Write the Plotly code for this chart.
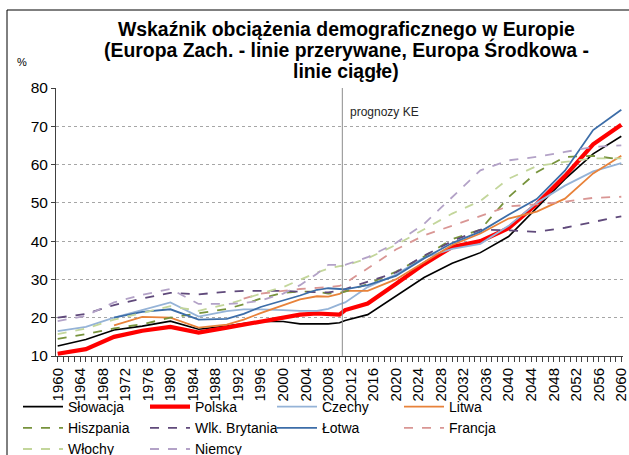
import plotly.graph_objects as go

years = [1960, 1965, 1970, 1975, 1980, 1985, 1990, 1993, 1996, 2000, 2003, 2006, 2008, 2010,
         2011, 2015, 2020, 2025, 2030, 2035, 2040, 2045, 2050, 2055, 2060]

slowacja = [12.6, 14.3, 16.8, 17.8, 19.1, 17.0, 17.8, 18.5, 19.0, 19.0, 18.4, 18.3, 18.4, 18.7,
            19.3, 20.8, 25.7, 30.5, 34.2, 37.0, 41.2, 48.6, 56.2, 62.8, 67.4]
polska = [10.6, 11.8, 15.0, 16.6, 17.6, 16.1, 17.4, 18.2, 19.2, 20.0, 20.8, 21.1, 21.0, 20.8,
          22.0, 23.7, 28.8, 34.0, 38.5, 40.0, 43.4, 49.7, 57.0, 65.3, 70.4]
czechy = [16.5, 17.6, 20.0, 22.0, 24.0, 20.3, 21.7, 22.2, 22.2, 22.0, 21.8, 21.8, 22.3, 23.5,
          24.0, 28.0, 31.3, 35.7, 38.0, 39.3, 44.0, 50.0, 54.5, 58.2, 60.4]
litwa = [None, None, 18.0, 20.2, 20.0, 17.4, 18.2, 19.5, 21.2, 23.3, 24.8, 25.6, 25.5, 26.2,
         27.0, 27.0, 30.0, 34.5, 39.0, 42.0, 45.9, 47.7, 51.1, 57.7, 62.3]
hiszpania = [14.5, 15.7, 17.2, 18.3, 20.0, 21.2, 22.3, 23.5, 25.0, 26.5, 26.8, 26.8, 26.3, 26.5,
             26.8, 28.8, 32.0, 36.0, 40.5, 43.0, 51.5, 58.0, 62.0, 62.3, 61.3]
wlk_brytania = [20.0, 21.0, 23.3, 25.0, 26.5, 26.1, 26.8, 27.0, 27.0, 27.0, 26.8, 26.6, 26.6, 27.0,
                27.5, 29.5, 31.8, 36.2, 40.0, 43.0, 42.8, 42.4, 43.5, 45.0, 46.5]
lotwa = [None, None, 20.0, 21.5, 22.2, 19.5, 19.7, 21.0, 22.8, 24.5, 25.8, 27.3, 27.7, 27.5,
         27.4, 28.5, 30.9, 35.5, 39.5, 42.5, 46.9, 51.0, 58.4, 69.0, 74.3]
francja = [None, None, None, None, None, None, None, 25.0, 26.3, 27.0, 27.5, 27.8, 28.0, 28.3,
           29.0, 33.0, 37.8, 41.5, 44.0, 46.5, 49.1, 49.6, 50.3, 51.3, 51.6]
wlochy = [15.7, 17.2, 19.5, 21.3, 23.0, 21.8, 23.5, 24.8, 26.3, 28.0, 30.0, 31.8, 32.8, 33.5,
          33.6, 35.5, 39.0, 43.0, 47.2, 50.5, 56.3, 59.6, 60.7, 61.6, 61.6]
niemcy = [19.1, 20.5, 24.0, 26.0, 27.5, 23.6, 23.6, 23.8, 24.5, 26.3, 28.5, 31.5, 33.8, 33.8,
          33.8, 35.8, 39.5, 44.5, 51.5, 58.5, 61.1, 62.0, 63.3, 64.6, 65.0]

tick_years = list(range(1960, 2061, 4))
tick_labels = [str(y) for y in tick_years]
forecast_start = 2010.5

series = [
    ("Słowacja", slowacja, "#000000", 1.6, "solid"),
    ("Polska", polska, "#FF0000", 4.2, "solid"),
    ("Czechy", czechy, "#95B3D7", 1.8, "solid"),
    ("Litwa", litwa, "#E8823A", 1.8, "solid"),
    ("Hiszpania", hiszpania, "#77933C", 1.8, "dash"),
    ("Wlk. Brytania", wlk_brytania, "#604A7B", 1.8, "dash"),
    ("Łotwa", lotwa, "#3C6DA8", 1.8, "solid"),
    ("Francja", francja, "#D99694", 1.8, "dash"),
    ("Włochy", wlochy, "#C3D69B", 1.8, "dash"),
    ("Niemcy", niemcy, "#B3A2C7", 1.8, "dash"),
]

fig = go.Figure()
for name, vals, color, w, dash in series:
    fig.add_trace(go.Scatter(x=years, y=vals, name=name, mode="lines",
                             line=dict(color=color, width=w, dash=dash)))

L, R, T, B = 56, 6, 88, 99
W, H = 629, 455
pw, ph = W - L - R, H - T - B

def px2x(px):
    return (px - L) / pw

def py2y(py):
    return (H - B - py) / ph

fig.add_shape(type="line", xref="x", yref="y", x0=forecast_start, x1=forecast_start, y0=10, y1=80,
              line=dict(color="#8C8C8C", width=1))
# outer chart frame
fig.add_shape(type="rect", xref="paper", yref="paper", x0=px2x(7), x1=px2x(640),
              y0=py2y(470), y1=py2y(10), line=dict(color="#000000", width=1), layer="below")

title_lines = ["Wskaźnik obciążenia demograficznego w Europie",
               "(Europa Zach. - linie przerywane, Europa Środkowa -",
               "linie ciągłe)"]
for i, t in enumerate(title_lines):
    fig.add_annotation(text="<b>%s</b>" % t, xref="paper", yref="paper",
                       x=px2x(346), y=py2y(29 + 21 * i), showarrow=False,
                       xanchor="center", yanchor="middle",
                       font=dict(family="Liberation Sans, Arial", size=19.4, color="#000000"))

fig.add_annotation(text="prognozy KE", xref="x", yref="paper", x=forecast_start, y=py2y(112),
                   xshift=6, showarrow=False, xanchor="left", yanchor="middle",
                   font=dict(family="Liberation Sans, Arial", size=12, color="#262626"))
fig.add_annotation(text="%", xref="paper", yref="paper", x=px2x(22), y=py2y(62),
                   showarrow=False, xanchor="center", yanchor="middle",
                   font=dict(family="Liberation Sans, Arial", size=11, color="#000000"))

fig.update_layout(
    width=W, height=H,
    margin=dict(l=L, r=R, t=T, b=B, autoexpand=False),
    paper_bgcolor="white", plot_bgcolor="white",
    font=dict(family="Liberation Sans, Arial", color="#000000"),
    showlegend=True,
    legend=dict(orientation="h", x=px2x(18), y=py2y(391), xanchor="left", yanchor="top",
                entrywidth=72, entrywidthmode="pixels", itemwidth=40,
                font=dict(size=14), tracegroupgap=0, bgcolor="rgba(0,0,0,0)"),
    xaxis=dict(range=[1959.7, 2060.3], tickmode="array", tickvals=tick_years, ticktext=tick_labels,
               tickangle=-90, showgrid=False, zeroline=False, showline=True, linecolor="#404040",
               linewidth=1, ticks="outside", ticklen=5, tickcolor="#404040",
               tickfont=dict(size=15), ticklabeloverflow="allow",
               minor=dict(dtick=1, tick0=1960, ticks="outside", ticklen=5, tickcolor="#404040")),
    yaxis=dict(range=[10, 80], dtick=10, showgrid=True, gridcolor="#A6A6A6", griddash="dot",
               gridwidth=1, zeroline=False, showline=True, linecolor="#404040", linewidth=1,
               ticks="outside", ticklen=4, tickcolor="#404040", tickfont=dict(size=15.5)),
)

fig.write_html("out.html", config={"displayModeBar": False},
               post_script="document.body.style.margin='0';document.body.style.overflow='hidden';")
